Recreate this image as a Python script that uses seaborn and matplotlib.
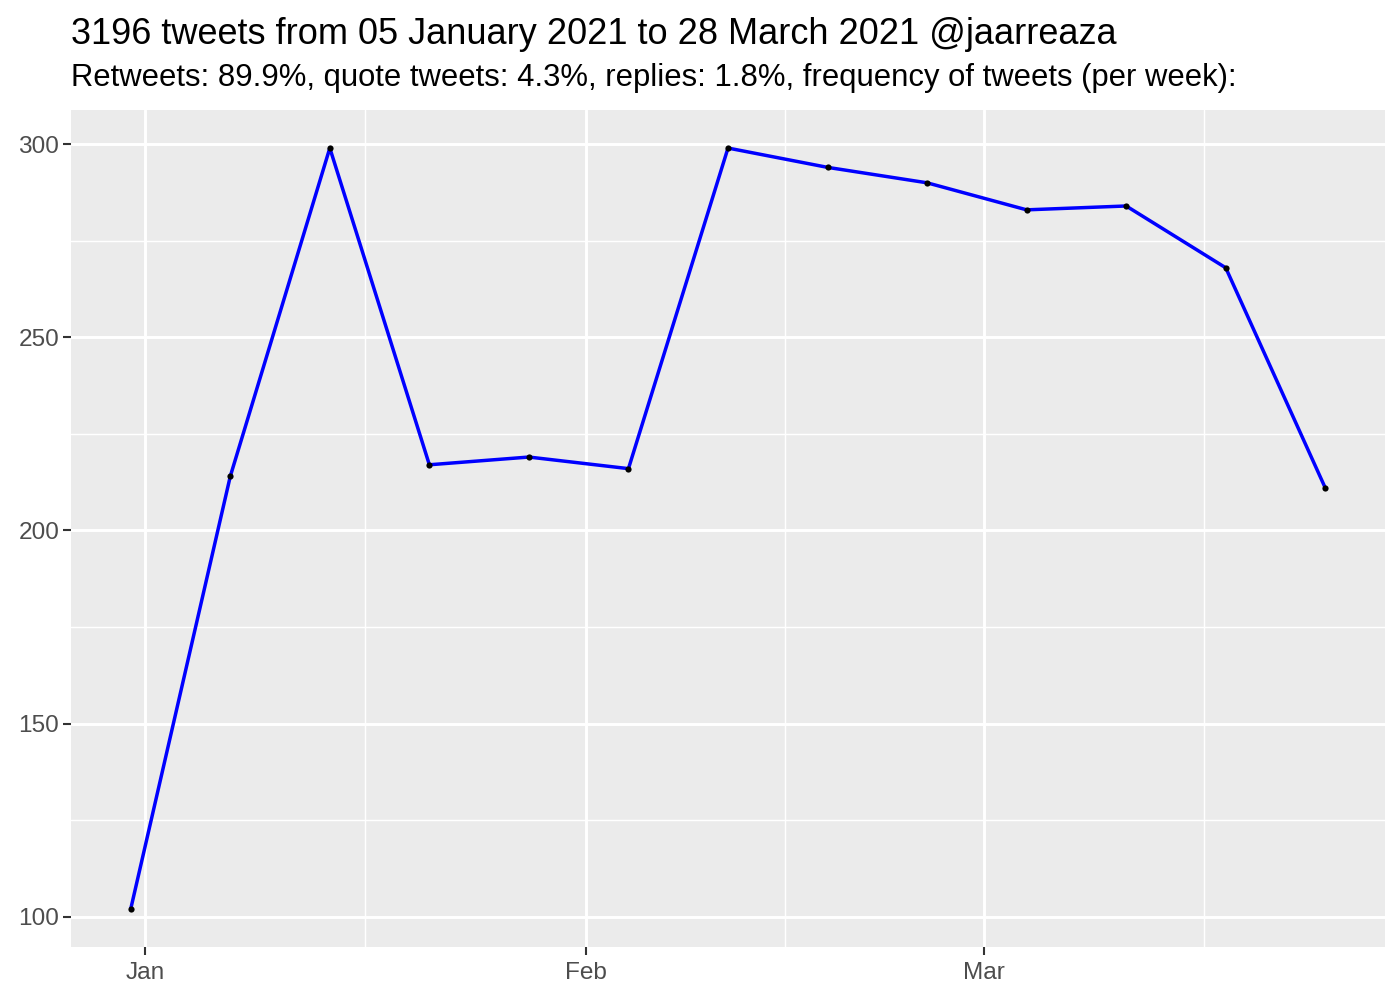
import matplotlib
matplotlib.use("Agg")
import matplotlib.pyplot as plt
import matplotlib.dates as mdates
import seaborn as sns
import pandas as pd
import numpy as np

weeks = ["2020-12-31", "2021-01-07", "2021-01-14", "2021-01-21", "2021-01-28",
         "2021-02-04", "2021-02-11", "2021-02-18", "2021-02-25", "2021-03-04",
         "2021-03-11", "2021-03-18", "2021-03-25"]
counts = [102, 214, 299, 217, 219, 216, 299, 294, 290, 283, 284, 268, 211]
title = "3196 tweets from 05 January 2021 to 28 March 2021 @jaarreaza"
subtitle = "Retweets: 89.9%, quote tweets: 4.3%, replies: 1.8%, frequency of tweets (per week):"
x_major = ["2021-01-01", "2021-02-01", "2021-03-01"]
x_major_labels = ["Jan", "Feb", "Mar"]
x_minor = ["2021-01-16 12:00", "2021-02-15 00:00", "2021-03-16 12:00"]
y_major = [100, 150, 200, 250, 300]
y_minor = [125, 175, 225, 275]

df = pd.DataFrame({"time": pd.to_datetime(weeks), "n": counts})

sns.set_theme(style="darkgrid")
plt.rcParams["font.family"] = ["Liberation Sans", "DejaVu Sans"]

fig = plt.figure(figsize=(14, 10), dpi=100)
ax = fig.add_axes([71/1400, 1-947/1000, (1385-71)/1400, (947-110)/1000])
ax.set_facecolor("#EBEBEB")

sns.lineplot(data=df, x="time", y="n", ax=ax, color="#0000FF", linewidth=2.5, zorder=3)
ax.scatter(mdates.date2num(df["time"]), df["n"], s=20, color="black", zorder=4, linewidths=0)

tmin = mdates.date2num(df["time"].min()); tmax = mdates.date2num(df["time"].max())
xr = tmax - tmin
ax.set_xlim(tmin - 0.05*xr, tmax + 0.05*xr)
yr = max(counts) - min(counts)
ax.set_ylim(min(counts) - 0.05*yr, max(counts) + 0.05*yr)

ax.set_xticks(mdates.date2num(pd.to_datetime(x_major, format="mixed")))
ax.set_xticklabels(x_major_labels)
ax.set_xticks(mdates.date2num(pd.to_datetime(x_minor, format="mixed")), minor=True)
ax.set_yticks(y_major)
ax.set_yticks(y_minor, minor=True)

ax.grid(which="major", color="white", linewidth=2.1)
ax.grid(which="minor", color="white", linewidth=1.05)
ax.set_axisbelow(True)
for s in ax.spines.values():
    s.set_visible(False)
ax.tick_params(which="major", length=5.5, width=1.5, color="#333333",
               labelsize=17.6, labelcolor="#4D4D4D", pad=3, bottom=True, left=True)
ax.tick_params(axis="x", which="major", pad=5)
ax.tick_params(which="minor", length=0)
ax.set_xlabel("")
ax.set_ylabel("")

fig.text(71/1400, 1-44/1000, title, fontsize=26.0, color="black", ha="left", va="baseline")
fig.text(71/1400, 1-86/1000, subtitle, fontsize=22.3, color="black", ha="left", va="baseline")

fig.savefig("out.png", dpi=100, facecolor="white")
